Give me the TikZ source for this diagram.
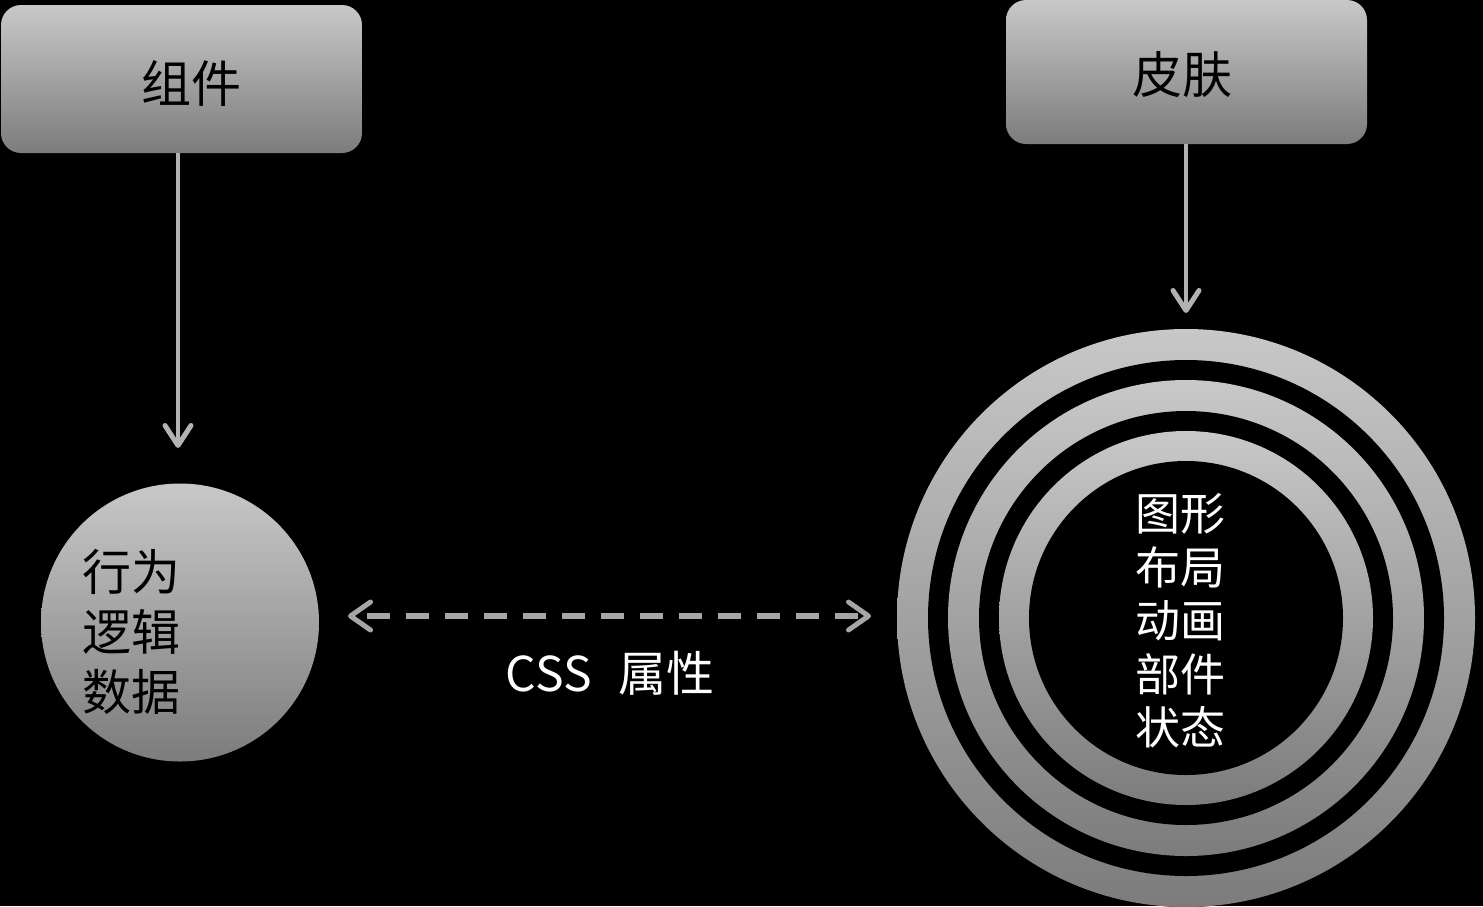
\documentclass[tikz,border=0pt]{standalone}
\usepackage{fontspec}
\newfontfamily\cjk{Noto Sans CJK SC}
\usetikzlibrary{arrows.meta}
\definecolor{gtop}{RGB}{200,200,200}
\definecolor{gbot}{RGB}{124,124,124}
\definecolor{linegray}{RGB}{178,178,178}
\definecolor{dashgray}{RGB}{166,166,166}
\tikzset{
  boxshape/.style={rectangle, rounded corners=20pt, top color=gtop, bottom color=gbot, draw=none, inner sep=0pt},
  boxtext/.style={font=\cjk\fontsize{50}{60}\selectfont, text=black, inner sep=0pt},
  solidarrow/.style={draw=linegray, line width=4pt, -{Straight Barb[length=20pt,width=26pt,line width=5pt,round]}},
  dasharrow/.style={draw=dashgray, line width=6pt, dash pattern=on 23pt off 16pt, dash phase=25pt,
     {Straight Barb[length=20pt,width=28pt,line width=5pt,round]}-{Straight Barb[length=20pt,width=28pt,line width=5pt,round]}},
  ringfill/.style={top color=gtop, bottom color=gbot, draw=none},
}
\begin{document}
\begin{tikzpicture}[x=1pt,y=-1pt]
\useasboundingbox (0,0) rectangle (1483,906);
\fill[black] (0,0) rectangle (1483,906);
% boxes
\node[boxshape, minimum width=361pt, minimum height=148pt] (box1) at (181.5,79) {};
\node[boxshape, minimum width=361pt, minimum height=144pt] (box2) at (1186.5,72) {};
\node[boxtext] (t1) at (191,83) {组件};
\node[boxtext] (t2) at (1182,75) {皮肤};
% left circle
\node[circle, minimum size=278pt, inner sep=0pt, top color=gtop, bottom color=gbot, draw=none] (lc) at (180,622.5) {};
\node[anchor=center, align=left, inner sep=0pt, text=black, font=\cjk\fontsize{49}{60}\selectfont] (ltext) at (131,632) {行为\\逻辑\\数据};
% rings
\fill[ringfill] (1186,618) circle (289);
\fill[black] (1186,618) circle (258);
\fill[ringfill] (1186,618) circle (238);
\fill[black] (1186,618) circle (207);
\fill[ringfill] (1186,618) circle (187);
\node[circle, fill=black, minimum size=314pt, inner sep=0pt] (rc) at (1186,618) {};
\node[align=center, inner sep=0pt, text=white, font=\cjk\fontsize{45}{53.5}\selectfont] (rtext) at (1180,621) {图形\\布局\\动画\\部件\\状态};
% connectors
\coordinate (tipL) at (178,448);
\coordinate (tipR) at (1186,313);
\draw[solidarrow] (box1.south -| tipL) -- (tipL);
\draw[solidarrow] (box2.south -| tipR) -- (tipR);
\coordinate (dl) at (348,616);
\coordinate (dr) at (871,616);
\draw[dasharrow] (dl) -- (dr);
\node[inner sep=0pt, text=white, font=\cjk\fontsize{48}{58}\selectfont] (css) at (610,673) {CSS\hspace{0.55em}属性};
\end{tikzpicture}
\end{document}
